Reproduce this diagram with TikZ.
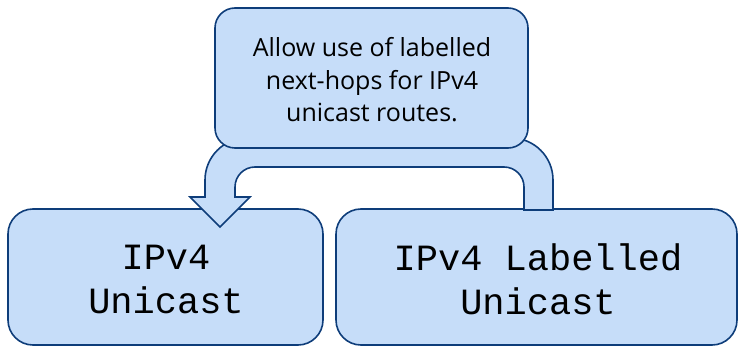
\documentclass[tikz,border=0pt]{standalone}
\usepackage{fontspec}
\setmainfont{Open Sans}
\newfontfamily\codefont{Liberation Mono}
\definecolor{boxfill}{RGB}{198,221,249}
\definecolor{boxline}{RGB}{14,61,122}
\tikzset{
  card/.style={draw=boxline, fill=boxfill, line width=1.6pt, rectangle, inner sep=0pt},
  notecard/.style={card, rounded corners=20pt, minimum width=313pt, minimum height=140pt},
  notetext/.style={align=center, inner sep=0pt, font=\fontsize{25}{32.5}\selectfont},
  afcard/.style={card, rounded corners=25pt, minimum height=136pt},
  aftext/.style={align=center, inner sep=0pt, font=\fontsize{37}{44}\selectfont\codefont},
  uarrow/.style={draw=boxline, fill=boxfill, line width=1.6pt, line join=miter}
}
\begin{document}
\begin{tikzpicture}[x=1pt, y=-1pt]
  \useasboundingbox (0,0) rectangle (738,347);

  % address-family boxes
  \node[afcard, minimum width=315pt] (uni) at (165.5,277) {};
  \node[aftext] (unitext) at (166,279.5) {IPv4\\Unicast};
  \node[afcard, minimum width=401pt] (lu) at (536.5,277) {};
  \node[aftext] (lutext) at (538,279.5) {IPv4 Labelled\\Unicast};

  % U-turn arrow from the labelled-unicast box back into the unicast box
  \draw[uarrow] (553,210) [rounded corners=42pt] -- (553,138) -- (205,138)
    [sharp corners] -- (205,197) -- (190,197) -- (220,227) -- (250,197) -- (235,197)
    [rounded corners=20pt] -- (235,167) -- (524,167)
    [sharp corners] -- (524,210) -- cycle;

  % note box
  \node[notecard] (note) at (371.5,78) {};
  \node[notetext] (notetext) at (372,80) {Allow use of labelled\\next-hops for IPv4\\unicast routes.};
\end{tikzpicture}
\end{document}
